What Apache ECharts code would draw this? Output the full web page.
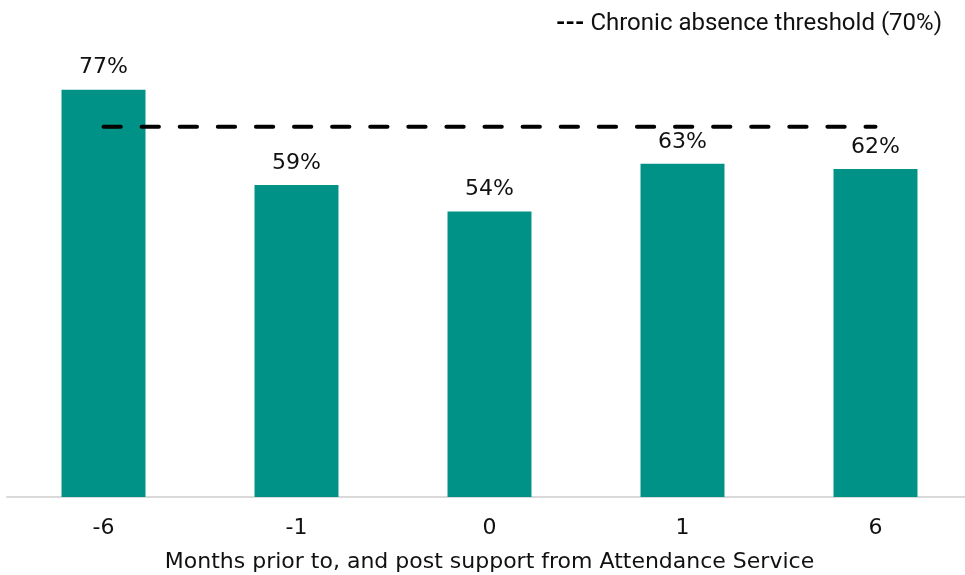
<!DOCTYPE html>
<html>
<head>
<meta charset="utf-8">
<script src="https://cdn.jsdelivr.net/npm/echarts@6/dist/echarts.min.js"></script>
<style>html,body{margin:0;padding:0;background:#fff;}#c{width:965px;height:575px;}</style>
</head>
<body>
<div id="c"></div>
<script>
const categories = ['-6', '-1', '0', '1', '6'];
const attendance = [77, 59, 54, 63, 62];
const threshold = [70, 70, 70, 70, 70];
const thresholdName = 'Chronic absence threshold (70%)';
const axisTitle = 'Months prior to, and post support from Attendance Service';

const chart = echarts.init(document.getElementById('c'));
chart.setOption({
  animation: false,
  backgroundColor: '#ffffff',
  legend: {
    right: 18,
    top: 7,
    itemWidth: 0,
    itemHeight: 0,
    data: [{ name: thresholdName, icon: 'none' }],
    formatter: function (n) { return '{d|---} ' + n; },
    textStyle: {
      fontFamily: 'Roboto', fontSize: 24, color: '#111',
      rich: { d: { fontFamily: 'Roboto', fontSize: 24, fontWeight: 'bold', color: '#000' } }
    }
  },
  grid: { left: 7, width: 965, top: 21, bottom: 78, containLabel: false, outerBoundsMode: 'none' },
  xAxis: {
    type: 'category',
    data: categories,
    axisLine: { lineStyle: { color: '#d9d9d9', width: 2 } },
    axisTick: { show: false },
    axisLabel: { margin: 20, fontFamily: 'DejaVu Sans', fontSize: 22, color: '#111' },
    name: axisTitle,
    nameLocation: 'middle',
    nameGap: 54,
    nameTextStyle: { fontFamily: 'DejaVu Sans', fontSize: 22, color: '#111' }
  },
  yAxis: { type: 'value', min: 0, max: 90, show: false, splitLine: { show: false } },
  series: [
    {
      type: 'bar',
      data: attendance,
      barWidth: '43.5%',
      itemStyle: { color: '#009286' },
      label: {
        show: true, position: 'top', distance: 11,
        formatter: '{c}%',
        fontFamily: 'DejaVu Sans', fontSize: 22, color: '#111'
      }
    },
    {
      type: 'line',
      name: thresholdName,
      data: threshold,
      symbol: 'none',
      lineStyle: { color: '#000', width: 4, type: [17.3, 20.8], cap: 'round' },
      z: 5
    }
  ]
});
</script>
</body>
</html>
